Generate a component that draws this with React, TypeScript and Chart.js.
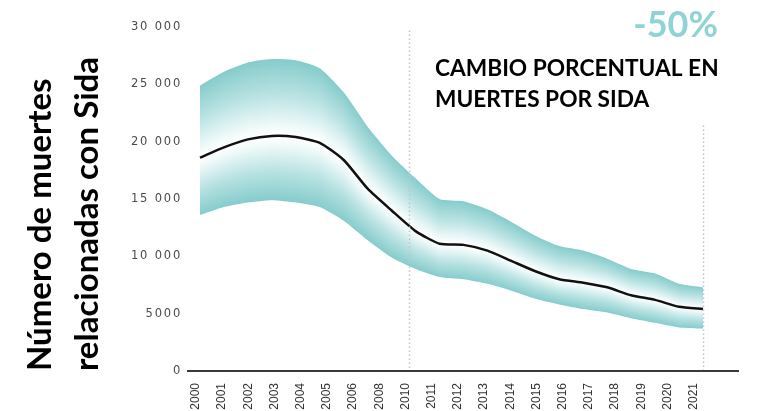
import React, { useEffect, useRef } from 'react';
import { Chart, registerables } from 'chart.js';

Chart.register(...registerables);

// ---- data ----
const years = [2000, 2001, 2002, 2003, 2004, 2005, 2006, 2007, 2008, 2009, 2010, 2011, 2012, 2013, 2014, 2015, 2016, 2017, 2018, 2019, 2020, 2021];
const upperBound = [24900, 26100, 26900, 27200, 27100, 26400, 24300, 21300, 18800, 16800, 15000, 14800, 14100, 13000, 11800, 10900, 10500, 9800, 8900, 8500, 7600, 7300];
const estimate = [18600, 19500, 20200, 20500, 20400, 19900, 18400, 15900, 14000, 12200, 11100, 11000, 10500, 9600, 8700, 8000, 7700, 7300, 6600, 6200, 5600, 5400];
const lowerBound = [13600, 14300, 14700, 14900, 14700, 14300, 13100, 11400, 9900, 8900, 8200, 8000, 7600, 7000, 6300, 5800, 5400, 5100, 4600, 4200, 3800, 3700];

const axisLabels = ['2000', '2001', '2002', '2003', '2004', '2005', '2006', '2008', '2010', '2011', '2012', '2013', '2014', '2015', '2016', '2017', '2018', '2019', '2020', '2021'];
const yTicks = [0, 5000, 10000, 15000, 20000, 25000, 30000];
const yTickLabels = ['0', '5000', '10 000', '15 000', '20 000', '25 000', '30 000'];

const markerYears = [2008.73, 2021];
const markerTops = [29700, 21400];

const yTitle = ['Número de muertes', 'relacionadas con Sida'];
const bigValue = '-50%';
const noteLines = ['CAMBIO PORCENTUAL EN', 'MUERTES POR SIDA'];

// ---- styles ----
const TEAL = 'rgb(134,204,204)';
const TEAL_MID = 'rgb(184,226,226)';
const TEAL_LIGHT = 'rgb(238,249,249)';
const WHITE = 'rgb(255,255,255)';

let patternCache: { chart: any; key: string; pat: any } | null = null;

function bandPattern(chart: any) {
  const xs = chart.scales && chart.scales.x;
  const ys = chart.scales && chart.scales.y;
  if (!xs || !ys || !chart.chartArea) return TEAL;
  const key = `${chart.width}x${chart.height}-${xs.left}-${xs.right}-${ys.top}-${ys.bottom}`;
  if (patternCache && patternCache.chart === chart && patternCache.key === key) return patternCache.pat;
  const cvs = document.createElement('canvas');
  cvs.width = chart.width;
  cvs.height = chart.height;
  const c = cvs.getContext('2d')!;
  const px = years.map((y) => xs.getPixelForValue(y));
  const x0 = Math.floor(px[0]) - 2;
  const x1 = Math.ceil(px[px.length - 1]) + 2;
  for (let x = x0; x <= x1; x++) {
    let i = 0;
    while (i < px.length - 2 && x > px[i + 1]) i++;
    let t = (x + 0.5 - px[i]) / (px[i + 1] - px[i]);
    t = Math.max(0, Math.min(1, t));
    const v = (arr: number[]) => arr[i] + (arr[i + 1] - arr[i]) * t;
    const yu = ys.getPixelForValue(v(upperBound));
    const ym = ys.getPixelForValue(v(estimate));
    const yl = ys.getPixelForValue(v(lowerBound));
    const m = (ym - yu) / (yl - yu);
    const g = c.createLinearGradient(0, yu, 0, yl);
    g.addColorStop(0, TEAL);
    g.addColorStop(m * 0.45, TEAL_MID);
    g.addColorStop(m * 0.85, TEAL_LIGHT);
    g.addColorStop(m, WHITE);
    g.addColorStop(m + (1 - m) * 0.15, TEAL_LIGHT);
    g.addColorStop(m + (1 - m) * 0.55, TEAL_MID);
    g.addColorStop(1, TEAL);
    c.fillStyle = g;
    c.fillRect(x, 0, 1, cvs.height);
  }
  const pat = chart.ctx.createPattern(cvs, 'no-repeat');
  patternCache = { chart, key, pat };
  return pat;
}

const overlayPlugin = {
  id: 'overlay',
  afterDatasetsDraw(chart: any) {
    const { ctx } = chart;
    const xs = chart.scales.x;
    const ys = chart.scales.y;
    ctx.save();
    ctx.strokeStyle = '#c4c4c4';
    ctx.lineWidth = 1.5;
    ctx.setLineDash([1.5, 2.5]);
    markerYears.forEach((yr, k) => {
      const x = Math.round(xs.getPixelForValue(yr)) + 0.5;
      ctx.beginPath();
      ctx.moveTo(x, ys.getPixelForValue(markerTops[k]));
      ctx.lineTo(x, ys.getPixelForValue(0) - 1);
      ctx.stroke();
    });
    ctx.restore();
    (ctx as any).letterSpacing = '1.8px';
  },
  afterDraw(chart: any) {
    const { ctx } = chart;
    (ctx as any).letterSpacing = '0px';
    ctx.save();
    ctx.textBaseline = 'alphabetic';
    ctx.fillStyle = '#8fd3d5';
    ctx.font = 'bold 36px Lato';
    ctx.textAlign = 'right';
    ctx.fillText(bigValue, 718, 37);
    ctx.fillStyle = '#000';
    ctx.font = 'bold 22.7px Lato';
    ctx.textAlign = 'left';
    ctx.fillText(noteLines[0], 435, 76);
    ctx.fillText(noteLines[1], 435, 107);
    ctx.restore();
  },
};

export default function App() {
  const ref = useRef<HTMLCanvasElement>(null);
  useEffect(() => {
    if (!ref.current) return;
    const pts = (arr: number[]) => arr.map((v, i) => ({ x: years[i], y: v }));
    const chart = new Chart(ref.current, {
      type: 'line',
      data: {
        datasets: [
          {
            data: pts(upperBound),
            borderColor: 'rgba(0,0,0,0)',
            borderWidth: 0,
            pointRadius: 0,
            pointBackgroundColor: 'rgba(0,0,0,0)',
            backgroundColor: (c: any) => bandPattern(c.chart),
            fill: '+2',
            tension: 0.2,
          },
          {
            data: pts(estimate),
            borderColor: '#111',
            borderWidth: 2.5,
            pointRadius: 0,
            fill: false,
            tension: 0.2,
          },
          {
            data: pts(lowerBound),
            borderColor: 'rgba(0,0,0,0)',
            borderWidth: 0,
            pointRadius: 0,
            fill: false,
            tension: 0.2,
          },
        ] as any,
      },
      options: {
        responsive: false,
        animation: false,
        events: [],
        layout: { padding: { left: 0, right: 29, top: 27, bottom: 0 } },
        plugins: {
          legend: { display: false },
          tooltip: { enabled: false },
          filler: { drawTime: 'beforeDatasetsDraw' } as any,
        },
        scales: {
          x: {
            type: 'linear',
            display: false,
            min: 1999.5,
            max: 2022.46,
          },
          xl: {
            type: 'linear',
            position: 'bottom',
            min: -0.305,
            max: 20.69,
            afterBuildTicks: (s: any) => {
              s.ticks = axisLabels.map((_, i) => ({ value: i }));
            },
            afterFit: (s: any) => {
              s.height = 40;
            },
            ticks: {
              callback: (v: any) => axisLabels[v as number],
              minRotation: 90,
              maxRotation: 90,
              autoSkip: false,
              padding: 12,
              color: '#333',
              font: { family: "'Liberation Sans', Arial", size: 12 },
            },
            grid: { display: false, drawTicks: false },
            border: { display: true, color: '#3a3a3a', width: 2 },
          } as any,
          y: {
            type: 'linear',
            min: 0,
            max: 30000,
            afterBuildTicks: (s: any) => {
              s.ticks = yTicks.map((v) => ({ value: v }));
            },
            afterFit: (s: any) => {
              s.width = 188;
            },
            ticks: {
              callback: (v: any) => yTickLabels[yTicks.indexOf(v as number)],
              padding: 6,
              color: '#4a4a4a',
              font: { family: "'DejaVu Sans'", size: 11.5 },
              z: 1,
            },
            grid: { display: false, drawTicks: false },
            border: { display: false },
            title: {
              display: true,
              text: yTitle,
              align: 'start',
              color: '#000',
              font: { family: 'Lato', weight: 'bold', size: 33, lineHeight: 1.45 },
              padding: { top: 16, bottom: 0 },
            },
          } as any,
        },
      },
      plugins: [overlayPlugin],
    });
    return () => chart.destroy();
  }, []);
  return (
    <div style={{ position: 'fixed', left: 0, top: 0, width: 767, height: 411, background: '#fff' }}>
      <canvas ref={ref} width={767} height={411} style={{ display: 'block' }} />
    </div>
  );
}
